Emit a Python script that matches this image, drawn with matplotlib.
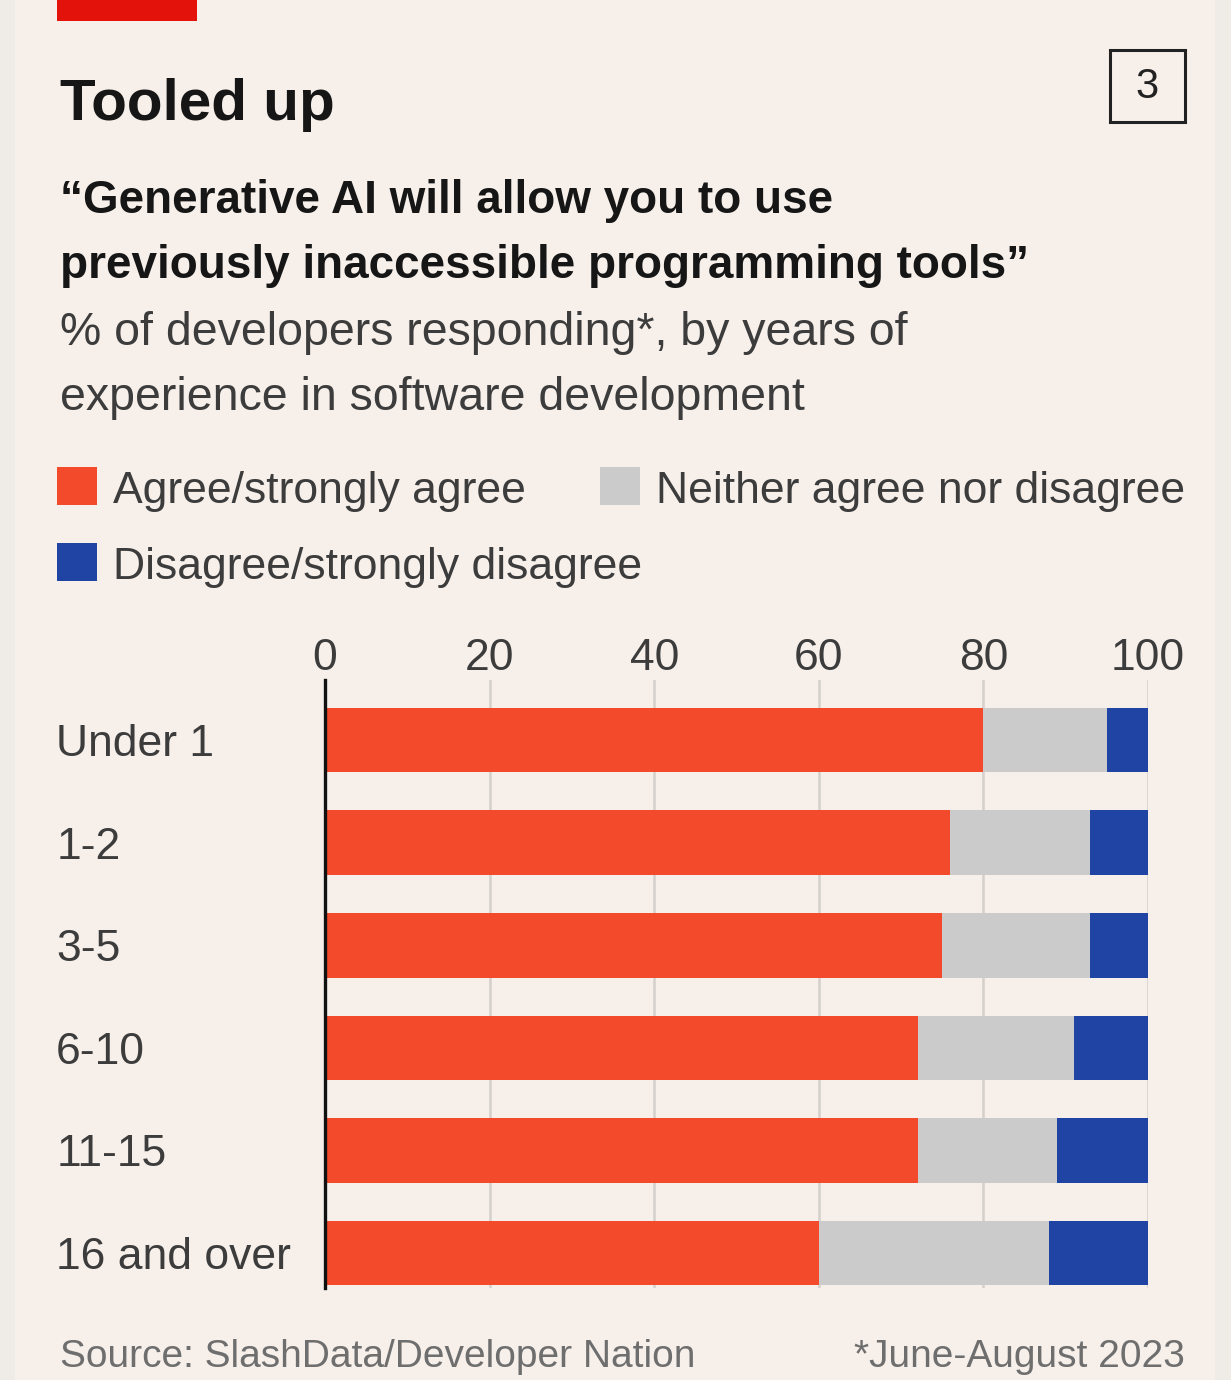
import numpy as np
import matplotlib.pyplot as plt
from matplotlib.patches import Rectangle

# Survey shares, % of developers by years of experience
groups = ['Under 1', '1-2', '3-5', '6-10', '11-15', '16 and over']
agree = [80, 76, 75, 72, 72, 60]
neither = [15, 17, 18, 19, 17, 28]
disagree = [5, 7, 7, 9, 11, 12]

labels = ['Agree/strongly agree', 'Neither agree nor disagree', 'Disagree/strongly disagree']
colours = ['#f24a2b', '#cbcbcb', '#1f44a3']
xticks = [0, 20, 40, 60, 80, 100]

plt.rcParams['font.family'] = ['Liberation Sans', 'DejaVu Sans']

W, H = 1231, 1380
fig = plt.figure(figsize=(W / 100, H / 100), dpi=100, facecolor='#efece8')

def px(x, y):
    # pixel position (top-left origin) -> figure fraction
    return x / W, 1 - y / H

# panel background and red tag
fig.patches.append(Rectangle(px(15, H), (1215 - 15) / W, 1, transform=fig.transFigure,
                             facecolor='#f6efea', edgecolor='none', zorder=-5))
fig.patches.append(Rectangle(px(57, 21), (197 - 57) / W, 21 / H, transform=fig.transFigure,
                             facecolor='#e3120b', edgecolor='none', zorder=1))

ink = '#161616'
grey_txt = '#3c3c3c'

fig.text(*px(60, 120), 'Tooled up', fontsize=42, fontweight='bold', color=ink, va='baseline')
fig.text(*px(60, 213), '\u201cGenerative AI will allow you to use', fontsize=33,
         fontweight='bold', color=ink, va='baseline')
fig.text(*px(60, 278), 'previously inaccessible programming tools\u201d', fontsize=33,
         fontweight='bold', color=ink, va='baseline')
fig.text(*px(60, 345), '% of developers responding*, by years of', fontsize=33.5,
         color=grey_txt, va='baseline')
fig.text(*px(60, 410), 'experience in software development', fontsize=33.5,
         color=grey_txt, va='baseline')

# chart number box
fig.patches.append(Rectangle(px(1110, 122), 75 / W, 72 / H, transform=fig.transFigure,
                             facecolor='none', edgecolor='#222222', linewidth=2.2, zorder=2))
fig.text(*px(1147, 87), '3', fontsize=30, color='#222222', ha='center', va='center')

# legend
legend_pos = [(57, 467), (600, 467), (57, 543)]
for (lx, ly), lab, col in zip(legend_pos, labels, colours):
    fig.patches.append(Rectangle(px(lx, ly + 38), 40 / W, 38 / H, transform=fig.transFigure,
                                 facecolor=col, edgecolor='none', zorder=2))
    fig.text(*px(lx + 56, ly + 36), lab, fontsize=32, color=grey_txt, va='baseline')

# bar chart
ax_l, ax_r = 325, 1148
ax_t, ax_b = 680, 1288
ax = fig.add_axes([ax_l / W, 1 - ax_b / H, (ax_r - ax_l) / W, (ax_b - ax_t) / H])
ax.set_facecolor('none')

y = np.arange(len(groups))
left = np.zeros(len(groups))
for vals, col in zip([agree, neither, disagree], colours):
    ax.barh(y, vals, left=left, height=0.63, color=col, edgecolor='none', zorder=2)
    left += np.array(vals)

ax.set_xlim(0, 100)
ax.set_ylim(5.34, -0.585)
ax.set_xticks(xticks)
ax.xaxis.tick_top()
ax.tick_params(axis='x', length=0, pad=1, labelsize=32, labelcolor=grey_txt)
ax.set_yticks(y)
ax.set_yticklabels(groups)
ax.tick_params(axis='y', length=0, labelsize=32, labelcolor=grey_txt)
for t in ax.get_yticklabels():
    t.set_horizontalalignment('left')
    t.set_x(-(ax_l - 61) / (ax_r - ax_l))
ax.grid(axis='x', color='#d4d0cc', linewidth=1.8, zorder=0)
for s in ['top', 'right', 'bottom']:
    ax.spines[s].set_visible(False)
ax.spines['left'].set_color('#111111')
ax.spines['left'].set_linewidth(2.4)
ax.spines['left'].set_zorder(3)

# footer
fig.text(*px(60, 1367), 'Source: SlashData/Developer Nation', fontsize=28, color='#6e6e6e',
         va='baseline')
fig.text(*px(1185, 1367), '*June-August 2023', fontsize=28, color='#6e6e6e',
         va='baseline', ha='right')

fig.savefig('out.png', dpi=100, facecolor=fig.get_facecolor())
